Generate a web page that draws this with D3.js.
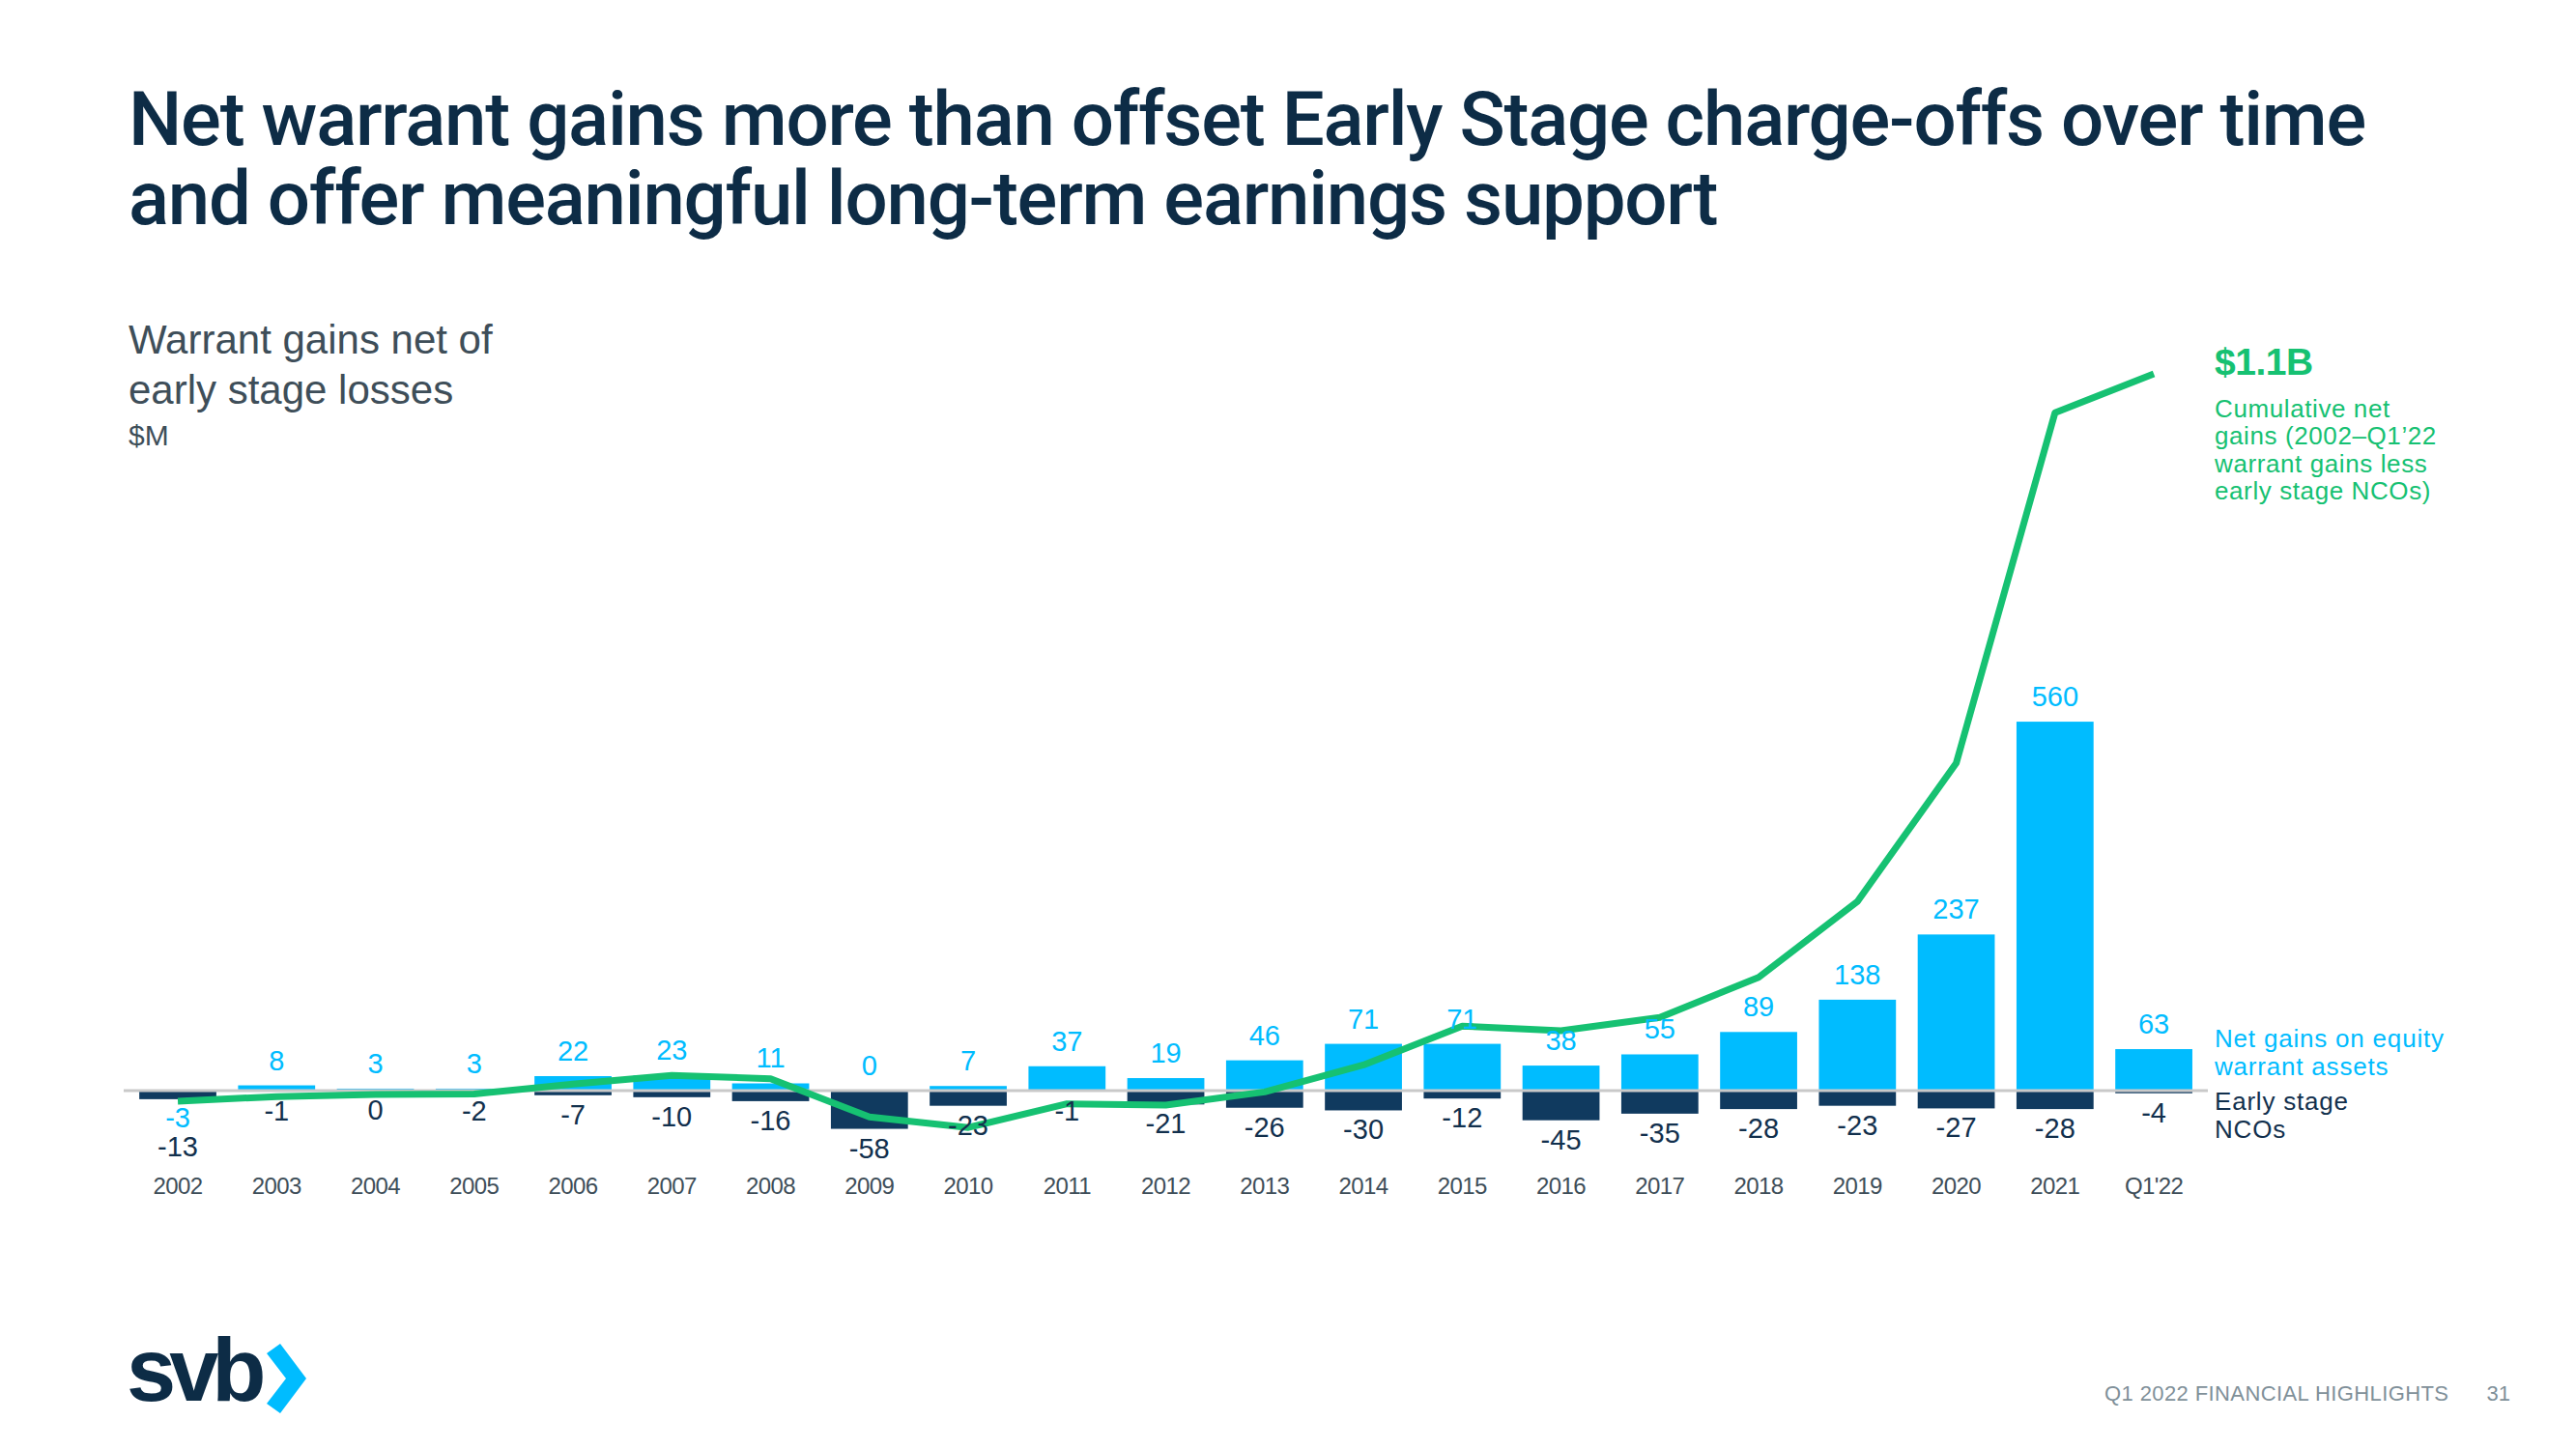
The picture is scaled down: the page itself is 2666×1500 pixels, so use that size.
<!DOCTYPE html>
<html><head><meta charset="utf-8">
<script src="https://cdn.jsdelivr.net/npm/d3@7"></script>
<style>body{margin:0;background:#fff;} svg{display:block}</style>
</head><body>
<svg id="c" width="2666" height="1500"></svg>
<script>
// ---- data ----
const categories = ["2002","2003","2004","2005","2006","2007","2008","2009","2010","2011","2012","2013","2014","2015","2016","2017","2018","2019","2020","2021","Q1'22"];
const warrantGains = [-3, 8, 3, 3, 22, 23, 11, 0, 7, 37, 19, 46, 71, 71, 38, 55, 89, 138, 237, 560, 63];
const earlyStageNCOs = [-13, -1, 0, -2, -7, -10, -16, -58, -23, -1, -21, -26, -30, -12, -45, -35, -28, -23, -27, -28, -4];
const cumulativeNet = [-16, -9, -6, -5, 10, 23, 18, -40, -56, -20, -22, -2, 39, 98, 91, 111, 172, 287, 497, 1029, 1088];
const titleLines = ["Net warrant gains more than offset Early Stage charge-offs over time", "and offer meaningful long-term earnings support"];
const subtitleLines = ["Warrant gains net of", "early stage losses"];
const unitLabel = "$M";
const cumulativeHeadline = "$1.1B";
const cumulativeNote = ["Cumulative net", "gains (2002\u2013Q1\u201922", "warrant gains less", "early stage NCOs)"];
const gainsLegend = ["Net gains on equity", "warrant assets"];
const ncoLegend = ["Early stage", "NCOs"];
const footerText = "Q1 2022 FINANCIAL HIGHLIGHTS";
const pageNumber = "31";

// ---- style ----
const C = {
  navy: "#0d2c46", light: "#00bcff", dark: "#103a5f", green: "#16c172",
  grey: "#3e4e59", axis: "#c9c9c9", foot: "#7f9099", ncoText: "#12304d"
};
const FONT = "'Liberation Sans', Arial, sans-serif";
const fmt = v => String(v);   // plain hyphen-minus like the reference

const svg = d3.select("#c");

// ---- scales ----
const x = d3.scaleBand().domain(categories).range([132.9, 2280.2]).paddingInner(0.22).paddingOuter(0.11);
const y = d3.scaleLinear().domain([0, 1000]).range([1129, 1129 - 682]);
const bw = x.bandwidth();
const cx = c => x(c) + bw / 2;

// ---- title ----
const title = svg.append("g");
titleLines.forEach((t, i) => {
  title.append("text").attr("x", 133).attr("y", 150 + i * 82)
    .attr("font-family", "Roboto, 'Liberation Sans', sans-serif").attr("font-weight", 500)
    .attr("font-size", 78).attr("fill", C.navy).text(t);
});
(function(){
  const nodes = title.selectAll("text").nodes();
  const w0 = nodes[0].getComputedTextLength();
  const target = 2316;
  const ls = (target - w0) / (titleLines[0].length - 1);
  nodes.forEach(n => n.setAttribute("letter-spacing", ls.toFixed(2)));
})();

// ---- subtitle ----
subtitleLines.forEach((t, i) => {
  svg.append("text").attr("x", 133).attr("y", 366 + i * 52)
    .attr("font-family", FONT).attr("font-size", 42).attr("fill", C.grey).text(t);
});
svg.append("text").attr("x", 133).attr("y", 461)
  .attr("font-family", FONT).attr("font-size", 30).attr("fill", C.grey).text(unitLabel);

// ---- bars ----
const rows = categories.map((c, i) => ({c, w: warrantGains[i], n: earlyStageNCOs[i], cum: cumulativeNet[i]}));

svg.append("g").selectAll("rect").data(rows).join("rect")
  .attr("x", d => x(d.c)).attr("width", bw)
  .attr("y", d => y(Math.max(0, d.w))).attr("height", d => Math.abs(y(d.w) - y(0)))
  .attr("fill", C.light);

svg.append("g").selectAll("rect").data(rows).join("rect")
  .attr("x", d => x(d.c)).attr("width", bw)
  .attr("y", y(0)).attr("height", d => Math.abs(y(d.n) - y(0)))
  .attr("fill", C.dark);

// baseline
svg.append("line").attr("x1", 128).attr("x2", 2285).attr("y1", y(0)).attr("y2", y(0))
  .attr("stroke", C.axis).attr("stroke-width", 3);

// ---- cumulative line ----
svg.append("path").datum(rows)
  .attr("d", d3.line().x(d => cx(d.c)).y(d => y(d.cum)))
  .attr("fill", "none").attr("stroke", C.green).attr("stroke-width", 7).attr("stroke-linejoin", "round");

// ---- value labels ----
svg.append("g").selectAll("text").data(rows).join("text")
  .attr("x", d => cx(d.c))
  .attr("y", d => d.w >= 0 ? y(d.w) - 16 : y(0) + 38)
  .attr("text-anchor", "middle").attr("font-family", FONT).attr("font-size", 29)
  .attr("fill", C.light).text(d => fmt(d.w));

svg.append("g").selectAll("text").data(rows).join("text")
  .attr("x", d => cx(d.c))
  .attr("y", d => d.w < 0 ? y(0) + 68 : y(d.n) + 30)
  .attr("text-anchor", "middle").attr("font-family", FONT).attr("font-size", 29)
  .attr("fill", C.ncoText).text(d => fmt(d.n));

// ---- x axis labels ----
svg.append("g").selectAll("text").data(categories).join("text")
  .attr("x", d => cx(d)).attr("y", 1236)
  .attr("text-anchor", "middle").attr("font-family", FONT).attr("font-size", 24)
  .attr("letter-spacing", -0.6)
  .attr("fill", C.grey).text(d => d);

// ---- right annotations ----
const lx = 2292;
svg.append("text").attr("x", lx).attr("y", 388).attr("font-family", FONT).attr("font-weight", 700)
  .attr("font-size", 39).attr("letter-spacing", -0.5).attr("fill", C.green).text(cumulativeHeadline);
cumulativeNote.forEach((t, i) => {
  svg.append("text").attr("x", lx).attr("y", 432 + i * 28.3).attr("font-family", FONT)
    .attr("font-size", 26).attr("letter-spacing", 0.6).attr("fill", C.green).text(t);
});
gainsLegend.forEach((t, i) => {
  svg.append("text").attr("x", lx).attr("y", 1084 + i * 28.5).attr("font-family", FONT)
    .attr("font-size", 26).attr("letter-spacing", 0.8).attr("fill", C.light).text(t);
});
ncoLegend.forEach((t, i) => {
  svg.append("text").attr("x", lx).attr("y", 1149 + i * 28.5).attr("font-family", FONT)
    .attr("font-size", 26).attr("letter-spacing", 0.8).attr("fill", C.ncoText).text(t);
});

// ---- footer ----
svg.append("text").attr("x", 131).attr("y", 1450).attr("font-family", FONT).attr("font-weight", 700)
  .attr("font-size", 92).attr("letter-spacing", -7).attr("fill", C.navy).text("svb");
svg.append("path")
  .attr("d", "M276,1401 L290,1391 L317,1427 L290,1463 L276,1453 L296,1427 Z")
  .attr("fill", C.light);
svg.append("text").attr("x", 2178).attr("y", 1450).attr("font-family", FONT)
  .attr("font-size", 22).attr("letter-spacing", 0.4).attr("fill", C.foot).text(footerText);
svg.append("text").attr("x", 2598).attr("y", 1450).attr("text-anchor", "end").attr("font-family", FONT)
  .attr("font-size", 22).attr("fill", C.foot).text(pageNumber);
</script>
</body></html>
